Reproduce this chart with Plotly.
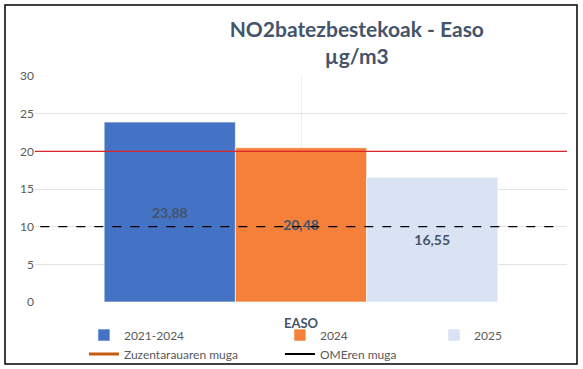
import plotly.graph_objects as go

category = ["EASO"]
series_names = ["2021-2024", "2024", "2025"]
series_values = [23.88, 20.48, 16.55]
series_colors = ["#4472C4", "#F4803A", "#DAE3F3"]
series_legends = ["legend", "legend", "legend2"]
label_texts = ["23,88", "20,48", "16,55"]
limit_names = ["Zuzentarauaren muga", "OMEren muga"]
limit_values = [20, 10]
y_ticks = [0, 5, 10, 15, 20, 25, 30]

FONT = "Lato"
fig = go.Figure()

for name, val, col, lab, lg in zip(series_names, series_values, series_colors, label_texts, series_legends):
    fig.add_trace(go.Bar(
        x=category, y=[val], name=name, legend=lg,
        marker=dict(color=col, line=dict(color="rgba(255,255,255,0.6)", width=1)),
        text=[lab], textposition="inside", insidetextanchor="middle",
        textfont=dict(family=FONT, size=14, color="#44546A", weight="bold"),
        textangle=0, hoverinfo="skip",
    ))

# limit lines across full width (secondary x axis 0..1)
fig.add_trace(go.Scatter(
    x=[0, 1], y=[limit_values[0]] * 2, xaxis="x2", mode="lines",
    line=dict(color="#D9262A", width=1.3), name=limit_names[0], showlegend=False,
))
fig.add_trace(go.Scatter(
    x=[0.01, 0.99], y=[limit_values[1]] * 2, xaxis="x2", mode="lines",
    line=dict(color="#000000", width=1.2, dash="dash"), name=limit_names[1], showlegend=False,
))
# legend entries for the limit lines
fig.add_trace(go.Scatter(
    x=[None], y=[None], mode="lines", line=dict(color="#C55A11", width=3),
    name=limit_names[0], legend="legend",
))
fig.add_trace(go.Scatter(
    x=[None], y=[None], mode="lines", line=dict(color="#000000", width=2),
    name=limit_names[1], legend="legend",
))

legend_common = dict(
    orientation="h", yanchor="top", y=-0.082, xanchor="left",
    entrywidth=151, entrywidthmode="pixels", itemwidth=30,
    bgcolor="rgba(0,0,0,0)",
    font=dict(family=FONT, size=12, color="#595959"),
    tracegroupgap=0, traceorder="normal",
)

fig.update_layout(
    width=583, height=369,
    margin=dict(l=35, r=16, t=76, b=67, autoexpand=False),
    paper_bgcolor="white", plot_bgcolor="white",
    barmode="group", bargap=0.26, bargroupgap=0,
    font=dict(family=FONT, size=12, color="#595959"),
    title=dict(
        text="NO2batezbestekoak - Easo<br>µg/m3",
        x=0.612, xref="container", xanchor="center",
        y=0.9, yref="container", yanchor="top",
        font=dict(family=FONT, size=21, color="#44546A", weight="bold"),
    ),
    xaxis=dict(
        title=dict(text="EASO", font=dict(family=FONT, size=13, color="#44546A", weight="bold"), standoff=16),
        showticklabels=False, showgrid=True, gridcolor="#EEEEEE", zeroline=False, ticks="",
    ),
    xaxis2=dict(overlaying="x", range=[0, 1], visible=False, fixedrange=True),
    yaxis=dict(
        range=[0, 30], tickvals=y_ticks, showgrid=True, gridcolor="#E3E3E3",
        zeroline=False, showline=False, ticks="", ticklen=0,
        tickfont=dict(family=FONT, size=12, color="#595959"),
    ),
    legend=dict(legend_common, x=0.092),
    legend2=dict(legend_common, x=0.75),
    shapes=[dict(
        type="rect", xref="paper", yref="paper",
        x0=-0.0564, x1=1.0188, y0=-0.274, y1=1.314,
        line=dict(color="black", width=1.5), fillcolor="rgba(0,0,0,0)", layer="above",
    )],
    showlegend=True,
)

fig.write_html(
    "out.html",
    config={"displayModeBar": False},
    post_script="document.body.style.margin='0';document.body.style.overflow='hidden';",
)
